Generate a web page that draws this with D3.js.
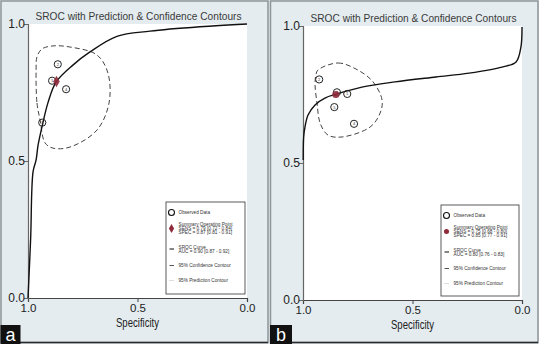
<!DOCTYPE html>
<html><head><meta charset="utf-8">
<script src="https://cdn.jsdelivr.net/npm/d3@7"></script>
<style>
html,body{margin:0;padding:0;background:#e2eaee;}
svg{display:block;font-family:"Liberation Sans",Arial,sans-serif;}
</style></head>
<body>
<svg id="chart" width="539" height="344"></svg>
<script>
// ---------- DATA ----------
const titleText = "SROC with Prediction & Confidence Contours";
const xLabel = "Specificity";
const xTicks = [1.0, 0.5, 0.0];
const yTicks = [0.0, 0.5, 1.0];

// Panel a
const obsA_spec = [0.864, 0.890, 0.826, 0.935];
const obsA_sens = [0.853, 0.793, 0.762, 0.640];
const obsA_id   = ["2", "1", "4", "3"];
const sumA = {spec: 0.87, sens: 0.79};
const curveA_spec = [1.000, 0.988, 0.977, 0.963, 0.954, 0.932, 0.909, 0.872, 0.795, 0.717, 0.594, 0.443, 0.215, 0.000];
const curveA_sens = [0.000, 0.215, 0.460, 0.504, 0.558, 0.639, 0.712, 0.788, 0.850, 0.898, 0.955, 0.974, 0.990, 1.000];
const contA_spec = [0.963, 0.959, 0.945, 0.922, 0.886, 0.808, 0.685, 0.630, 0.635, 0.685, 0.808, 0.886, 0.936, 0.959];
const contA_sens = [0.832, 0.712, 0.650, 0.566, 0.547, 0.551, 0.613, 0.712, 0.821, 0.887, 0.916, 0.920, 0.909, 0.880];
const legendA = ["Observed Data", "Summary Operating Point", "SENS = 0.79 [0.72 - 0.84]", "SPEC = 0.87 [0.81 - 0.91]",
                 "SROC Curve", "AUC = 0.90 [0.87 - 0.92]", "95% Confidence Contour", "95% Prediction Contour"];

// Panel b
const obsB_spec = [0.926, 0.798, 0.857, 0.767, 0.845];
const obsB_sens = [0.805, 0.752, 0.704, 0.643, 0.758];
const obsB_id   = ["2", "1", "5", "4", "3"];
const sumB = {spec: 0.85, sens: 0.75};
const curveB_spec = [0.999, 0.997, 0.991, 0.977, 0.945, 0.900, 0.845, 0.731, 0.580, 0.393, 0.242, 0.091, 0.027, 0.005, 0.000];
const curveB_sens = [0.511, 0.595, 0.631, 0.675, 0.712, 0.737, 0.752, 0.777, 0.796, 0.814, 0.828, 0.850, 0.869, 0.923, 0.996];
const contB_spec = [0.932, 0.840, 0.749, 0.680, 0.639, 0.648, 0.694, 0.822, 0.886, 0.922, 0.936, 0.945, 0.941];
const contB_sens = [0.839, 0.865, 0.839, 0.796, 0.730, 0.682, 0.631, 0.595, 0.602, 0.646, 0.719, 0.785, 0.821];
const legendB = ["Observed Data", "Summary Operating Point", "SENS = 0.75 [0.68 - 0.80]", "SPEC = 0.85 [0.77 - 0.91]",
                 "SROC Curve", "AUC = 0.80 [0.76 - 0.83]", "95% Confidence Contour", "95% Prediction Contour"];

// ---------- DRAW ----------
const svg = d3.select("#chart");
svg.append("rect").attr("width",539).attr("height",344).attr("fill","#e2eaee");

function zip(a,b){return a.map((v,i)=>[v,b[i]]);}

function panel(o){
  const g = svg.append("g");
  // frame
  g.append("rect").attr("x",o.fx).attr("y",1).attr("width",o.fw).attr("height",341.5)
    .attr("fill","#e4ecef").attr("stroke","#8d9598").attr("stroke-width",1.5);
  g.append("line").attr("x1",o.fx).attr("x2",o.fx+o.fw).attr("y1",342.5).attr("y2",342.5)
    .attr("stroke","#2a2a2a").attr("stroke-width",1.5);
  const x = d3.scaleLinear().domain([1,0]).range([o.x0,o.x1]);
  const y = d3.scaleLinear().domain([0,1]).range([o.y1,o.y0]);
  g.append("rect").attr("x",o.x0).attr("y",o.y0).attr("width",o.x1-o.x0).attr("height",o.y1-o.y0).attr("fill","#fff");

  // title
  g.append("text").attr("x",(o.x0+o.x1)/2+1).attr("y",o.y0-4.5).attr("text-anchor","middle")
    .attr("font-size",11).attr("fill","#3a3a3a").attr("textLength",206).attr("lengthAdjust","spacingAndGlyphs")
    .text(titleText);

  // axes
  const xa = g.append("g").attr("transform",`translate(0,${o.y1})`)
    .call(d3.axisBottom(x).tickValues(xTicks).tickSize(4).tickFormat(d3.format(".1f")));
  xa.select(".domain").attr("stroke","#444").attr("stroke-width",1.2);
  xa.selectAll(".tick line").attr("stroke","#444");
  xa.selectAll("text").attr("font-size",11.5).attr("fill","#222").attr("y",5.5).attr("dy","0.71em").attr("font-family","Liberation Sans, Arial");
  const ya = g.append("g").attr("transform",`translate(${o.x0},0)`)
    .call(d3.axisLeft(y).tickValues(yTicks).tickSize(4).tickFormat(d3.format(".1f")));
  ya.select(".domain").attr("stroke","#666").attr("stroke-width",1.2);
  ya.selectAll(".tick line").attr("stroke","#666");
  ya.selectAll("text").attr("font-size",12).attr("fill","#222").attr("font-family","Liberation Sans, Arial").attr("x",-3);
  g.append("text").attr("x",(o.x0+o.x1)/2).attr("y",o.y1+28.5).attr("text-anchor","middle")
    .attr("font-size",12).attr("fill","#222").attr("textLength",43).attr("lengthAdjust","spacingAndGlyphs").text(xLabel);

  // contour
  g.append("path").datum(zip(o.cs,o.cn))
    .attr("d", d3.line().x(d=>x(d[0])).y(d=>y(d[1])).curve(d3.curveCatmullRomClosed.alpha(0.5)))
    .attr("fill","none").attr("stroke","#444").attr("stroke-width",1).attr("stroke-dasharray","5,3");
  // SROC curve
  g.append("path").datum(zip(o.ss,o.sn))
    .attr("d", d3.line().x(d=>x(d[0])).y(d=>y(d[1])).curve(d3.curveCatmullRom.alpha(0.5)))
    .attr("fill","none").attr("stroke","#111").attr("stroke-width",1.4);
  // observed
  const pts = zip(o.os,o.on);
  g.selectAll(".obs").data(pts).enter().append("circle")
    .attr("cx",d=>x(d[0])).attr("cy",d=>y(d[1])).attr("r",3.6)
    .attr("fill","none").attr("stroke","#222").attr("stroke-width",1);
  g.selectAll(".oid").data(pts).enter().append("text")
    .attr("x",d=>x(d[0])).attr("y",d=>y(d[1])+1.5).attr("text-anchor","middle")
    .attr("font-size",4).attr("fill","#333").text((d,i)=>o.ids[i]);
  // summary
  const sym = d3.symbol().type(o.diamond ? d3.symbolDiamond : d3.symbolCircle).size(o.diamond?38:40);
  g.append("path").attr("d",sym()).attr("transform",`translate(${x(o.sum.spec)},${y(o.sum.sens)})`)
    .attr("fill","#8e2a3a").attr("opacity",0.9);

  // legend
  const L = g.append("g").attr("transform",`translate(${o.lx},${o.ly})`);
  L.append("rect").attr("width",o.lw).attr("height",o.lh).attr("fill","#fff").attr("stroke","#333").attr("stroke-width",0.8);
  const tx = 12.5, fs = 4.7;
  L.append("circle").attr("cx",5.5).attr("cy",10.5).attr("r",3).attr("fill","none").attr("stroke","#111").attr("stroke-width",1.1);
  const lines = [[0,10.5],[1,22.5],[2,26.5],[3,30.5],[4,45],[5,49.5],[6,63.5],[7,78.5]];
  lines.forEach(([i,yy])=>{
    L.append("text").attr("x",tx).attr("y",yy+1.6).attr("font-size",fs).attr("fill","#333").text(o.leg[i]);
  });
  const s2 = d3.symbol().type(o.diamond ? d3.symbolDiamond : d3.symbolCircle).size(o.diamond?24:20);
  L.append("path").attr("d",s2()).attr("transform","translate(5.5,26.5)").attr("fill","#8e2a3a");
  L.append("line").attr("x1",3.5).attr("x2",8).attr("y1",47).attr("y2",47).attr("stroke","#222").attr("stroke-width",1.1);
  L.append("line").attr("x1",3.5).attr("x2",8).attr("y1",63.5).attr("y2",63.5).attr("stroke","#555").attr("stroke-width",1);
  L.append("line").attr("x1",3.5).attr("x2",8).attr("y1",78.5).attr("y2",78.5).attr("stroke","#aaa").attr("stroke-width",0.8).attr("stroke-dasharray","1,1");

  // panel label
  g.append("rect").attr("x",o.fx-0.5).attr("y",325).attr("width",o.bw).attr("height",19).attr("fill","#111");
  g.append("text").attr("x",o.fx-0.5+o.bw/2).attr("y",341).attr("text-anchor","middle")
    .attr("font-size",18).attr("fill","#fff").text(o.label);
}

panel({fx:1, fw:267, x0:28, x1:247, y0:24, y1:298,
  cs:contA_spec, cn:contA_sens, ss:curveA_spec, sn:curveA_sens, os:obsA_spec, on:obsA_sens, ids:obsA_id,
  sum:sumA, diamond:true, lx:166, ly:202, lw:79, lh:92, leg:legendA, label:"a", bw:20});
panel({fx:270.5, fw:267.5, x0:303, x1:522, y0:26, y1:300,
  cs:contB_spec, cn:contB_sens, ss:curveB_spec, sn:curveB_sens, os:obsB_spec, on:obsB_sens, ids:obsB_id,
  sum:sumB, diamond:false, lx:441, ly:205, lw:78, lh:91, leg:legendB, label:"b", bw:22});
</script>
</body></html>
